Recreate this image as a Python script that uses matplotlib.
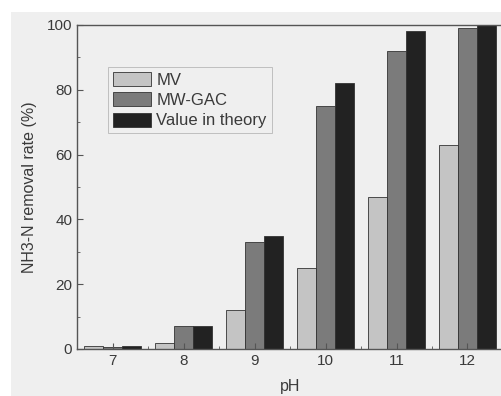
import numpy as np
import matplotlib
matplotlib.use('Agg')
import matplotlib.pyplot as plt
from matplotlib.patches import Rectangle
from matplotlib.ticker import MultipleLocator

plt.rcParams['font.family'] = ['Liberation Sans', 'DejaVu Sans']

ph = [7, 8, 9, 10, 11, 12]
mv = [1, 2, 12, 25, 47, 63]
mw_gac = [0.5, 7, 33, 75, 92, 99]
theory = [1, 7, 35, 82, 98, 100]

series = [('MV', mv, '#c4c4c4'),
          ('MW-GAC', mw_gac, '#7b7b7b'),
          ('Value in theory', theory, '#222222')]

fig = plt.figure(figsize=(5.02, 3.96), dpi=100, facecolor='white')
# grey page area with a thin white margin at top and left
fig.patches.append(Rectangle((11 / 502, 0), 1, 1 - 12 / 396,
                             transform=fig.transFigure, facecolor='#efefef',
                             edgecolor='none', zorder=-10))

ax = fig.add_axes([77 / 502, 47 / 396, 426 / 502, 324 / 396])
ax.set_facecolor('#efefef')

x = np.array(ph)
w = 0.27
for i, (name, vals, col) in enumerate(series):
    ax.bar(x + (i - 1) * w, vals, width=w, color=col, edgecolor='#333333',
           linewidth=0.6, label=name)

ax.set_xlim(6.5, 12.5)
ax.set_ylim(0, 100)
ax.set_xticks(ph)
ax.xaxis.set_minor_locator(MultipleLocator(0.5))
ax.yaxis.set_major_locator(MultipleLocator(20))
ax.yaxis.set_minor_locator(MultipleLocator(10))
ax.tick_params(which='both', direction='in', labelsize=11, colors='#555555',
               labelcolor='#3a3a3a')
ax.tick_params(which='major', length=4)
ax.tick_params(which='minor', length=2)
for s in ax.spines.values():
    s.set_color('#555555')
    s.set_linewidth(1.0)

ax.set_xlabel('pH', fontsize=11.5, color='#3a3a3a', labelpad=8)
ax.set_ylabel('NH3-N removal rate (%)', fontsize=11.5, color='#3a3a3a',
              labelpad=7)

leg = ax.legend(loc='upper left', bbox_to_anchor=(0.073, 0.870), fontsize=12,
                frameon=True, fancybox=False, handlelength=2.3,
                handleheight=0.9, labelspacing=0.28, handletextpad=0.3,
                borderpad=0.3, borderaxespad=0)
leg.get_frame().set_facecolor('#efefef')
leg.get_frame().set_edgecolor('#aaaaaa')
leg.get_frame().set_linewidth(0.6)
for t in leg.get_texts():
    t.set_color('#3a3a3a')

fig.savefig('out.png', dpi=100, facecolor=fig.get_facecolor())
